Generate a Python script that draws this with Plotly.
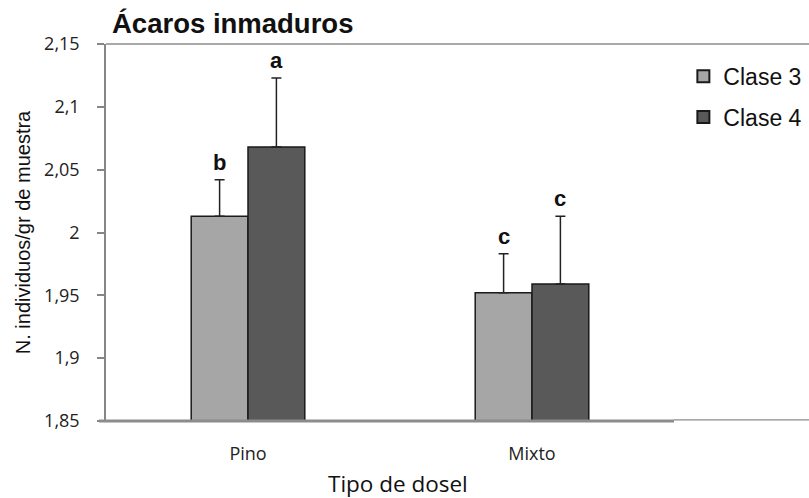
import plotly.graph_objects as go

categories = ["Pino", "Mixto"]
series_names = ["Clase 3", "Clase 4"]
clase3 = [2.013, 1.952]
clase4 = [2.068, 1.959]
err3 = [0.029, 0.031]
err4 = [0.055, 0.054]
letters3 = ["b", "c"]
letters4 = ["a", "c"]
ytick_vals = [1.85, 1.9, 1.95, 2.0, 2.05, 2.1, 2.15]
ytick_text = ["1,85", "1,9", "1,95", "2", "2,05", "2,1", "2,15"]
colors = ["#a6a6a6", "#595959"]

SANS = "Liberation Sans, Arial, sans-serif"
HUM = "Open Sans, Noto Sans, sans-serif"

bargap = 0.6
bar_w = (1 - bargap) / 2
xs = list(range(len(categories)))

fig = go.Figure()
for name, vals, errs, col in zip(series_names, [clase3, clase4], [err3, err4], colors):
    fig.add_trace(go.Bar(
        x=xs, y=[v - 1.85 for v in vals], base=1.85, name=name, legendgroup=name,
        marker=dict(color=col, line=dict(color="#1a1a1a", width=1.5)),
        error_y=dict(type="data", array=errs, arrayminus=[0]*len(errs), symmetric=False,
                     color="#222222", thickness=1.5, width=5),
    ))

for j, (vals, errs, lets) in enumerate([(clase3, err3, letters3), (clase4, err4, letters4)]):
    for i, (v, e, l) in enumerate(zip(vals, errs, lets)):
        fig.add_annotation(x=i + (j - 0.5) * bar_w, y=v + e, text="<b>%s</b>" % l,
                           showarrow=False, yanchor="bottom", yshift=3,
                           font=dict(family=SANS, size=22, color="#111"))

fig.add_annotation(xref="paper", yref="paper", x=(398 - 106) / 568, y=-(483 - 421) / 377,
                   text="Tipo de dosel", showarrow=False, xanchor="center", yanchor="middle",
                   font=dict(family=HUM, size=22.5, color="#111"))

fig.update_layout(
    width=809, height=498,
    margin=dict(l=106, r=135, t=44, b=77, autoexpand=False),
    paper_bgcolor="white", plot_bgcolor="white",
    barmode="group", bargap=bargap, bargroupgap=0,
    showlegend=True,
    legend=dict(x=1.0165, xanchor="left", y=0.9716, yanchor="top",
                font=dict(family=SANS, size=23, color="#111"),
                tracegroupgap=8, itemsizing="constant"),
    title=dict(text="<b>Ácaros inmaduros</b>", x=112/809, xanchor="left", y=1 - 23/498, yanchor="middle",
               font=dict(family=SANS, size=27.5, color="#111")),
    xaxis=dict(range=[-0.5, 1.5], tickvals=xs, ticktext=categories, showline=False, showgrid=False,
               zeroline=False, ticks="", ticklen=0, ticklabelstandoff=20,
               tickfont=dict(family=HUM, size=18, color="#222")),
    yaxis=dict(range=[1.85, 2.15], tickvals=ytick_vals, ticktext=ytick_text, showgrid=False, zeroline=False,
               showline=True, linecolor="#868686", linewidth=1.5, ticks="outside", ticklen=7,
               tickcolor="#868686", tickwidth=1.5, ticklabelstandoff=14,
               tickfont=dict(family=HUM, size=18, color="#222"),
               title=dict(text="N. individuos/gr de muestra", standoff=8,
                          font=dict(family=SANS, size=20, color="#111"))),
)

ext = (809 - 106) / 568
fig.add_shape(type="line", xref="paper", yref="paper", x0=0, x1=ext, y0=1, y1=1,
              line=dict(color="#8c8c8c", width=1.5))
fig.add_shape(type="line", xref="paper", yref="paper", x0=-7/568, x1=1, y0=0, y1=0,
              line=dict(color="#8c8c8c", width=3))
fig.add_shape(type="line", xref="paper", yref="paper", x0=1, x1=ext, y0=0.003, y1=0.003,
              line=dict(color="#8c8c8c", width=1.2))

fig.write_html("out.html")
